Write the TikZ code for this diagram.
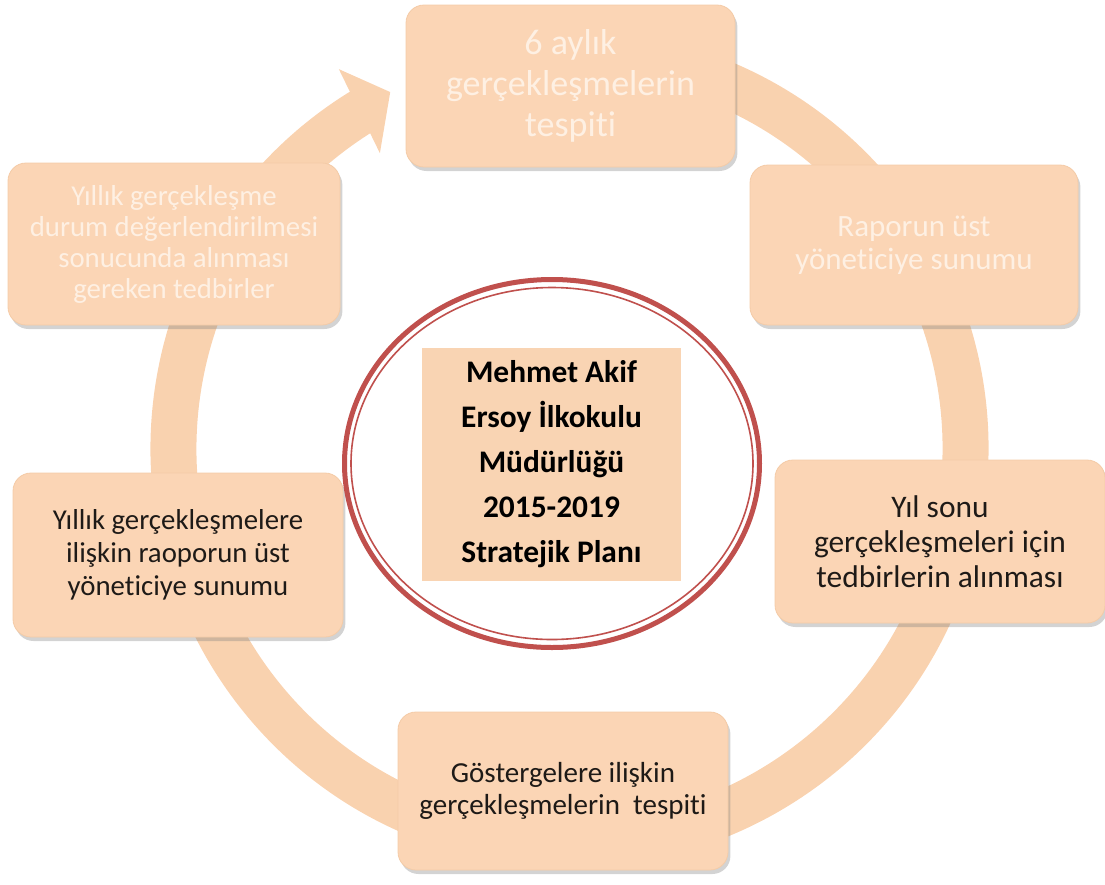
\documentclass[tikz,border=0pt]{standalone}
\usepackage{fontspec}
\setmainfont[Ligatures=NoCommon]{Carlito}
\usetikzlibrary{shapes.geometric,shadows}
\definecolor{peach}{HTML}{FBD5B5}
\definecolor{ringpeach}{HTML}{F9D2AF}
\definecolor{titlepeach}{HTML}{F9D4B3}
\definecolor{hubred}{HTML}{C0504D}
\definecolor{paletext}{HTML}{FEF0E3}
\definecolor{darktext}{HTML}{1E1A17}
\begin{document}
\begin{tikzpicture}[x=0.5pt,y=0.5pt,
	stage/.style={rectangle, rounded corners=9pt, fill=peach,
		draw=peach!88!brown, line width=0.4pt, align=center, inner sep=2pt,
		drop shadow={shadow xshift=1.2pt, shadow yshift=-2pt, opacity=0.35}},
	ring/.style={draw=ringpeach, line width=23pt}]
	\useasboundingbox (0,0) rectangle (1105,-885);
	% Centre of the cycle
	\coordinate (ctr) at (569.5,-448.5);
	% Ring, clockwise from under the top box
	\draw[ring] ([shift={(80:396)}]ctr)
	arc[start angle=80, end angle=-238.5, radius=396];
	% Arrow head into the top box
	\fill[ringpeach] ([shift={(121.3:444)}]ctr) -- ([shift={(116.7:399)}]ctr)
	-- ([shift={(122.7:351)}]ctr) -- cycle;
	% Stages of the cycle
	\node[stage, minimum width=164.5pt, minimum height=81pt, text=paletext,
	font=\fontsize{18}{20.5}\selectfont] (half) at (570.5,-86)
	{6 aylık\\gerçekleşmelerin\\tespiti};
	\node[stage, minimum width=164pt, minimum height=80pt, text=paletext,
	font=\fontsize{15.5}{16.5}\selectfont] (report) at (914,-245)
	{Raporun üst\\yöneticiye sunumu};
	\node[stage, minimum width=165pt, minimum height=81.5pt, text=darktext,
	font=\fontsize{15.7}{17.5}\selectfont] (yearend) at (940,-541.5)
	{Yıl sonu\\gerçekleşmeleri için\\tedbirlerin alınması};
	\node[stage, minimum width=165pt, minimum height=79pt, text=darktext,
	font=\fontsize{14.5}{16}\selectfont] (indicators) at (563,-791)
	{Göstergelere ilişkin\\gerçekleşmelerin\ \ tespiti};
	\node[stage, minimum width=165pt, minimum height=82pt, text=darktext,
	font=\fontsize{14.4}{16.5}\selectfont] (annual) at (178,-555)
	{Yıllık gerçekleşmelere\\ilişkin raoporun üst\\yöneticiye sunumu};
	\node[stage, minimum width=166pt, minimum height=81pt, text=paletext,
	font=\fontsize{14.4}{15.5}\selectfont] (measures) at (174,-244)
	{Yıllık gerçekleşme\\durum değerlendirilmesi\\sonucunda alınması\\gereken tedbirler};
	% Centre: double red ellipse and title
	\node[ellipse, draw=hubred, line width=2.5pt, fill=white,
	minimum width=207.5pt, minimum height=184pt] (hub) at (552,-463.5) {};
	\draw[hubred, line width=0.8pt] (hub.center) ellipse [x radius=201, y radius=176];
	\node[fill=titlepeach, minimum width=129.5pt, minimum height=116.5pt, align=center,
	font=\bfseries\fontsize{15.7}{22.5}\selectfont] (title) at (551.5,-464.5)
	{Mehmet Akif\\Ersoy İlkokulu\\Müdürlüğü\\2015-2019\\Stratejik Planı};
\end{tikzpicture}
\end{document}
